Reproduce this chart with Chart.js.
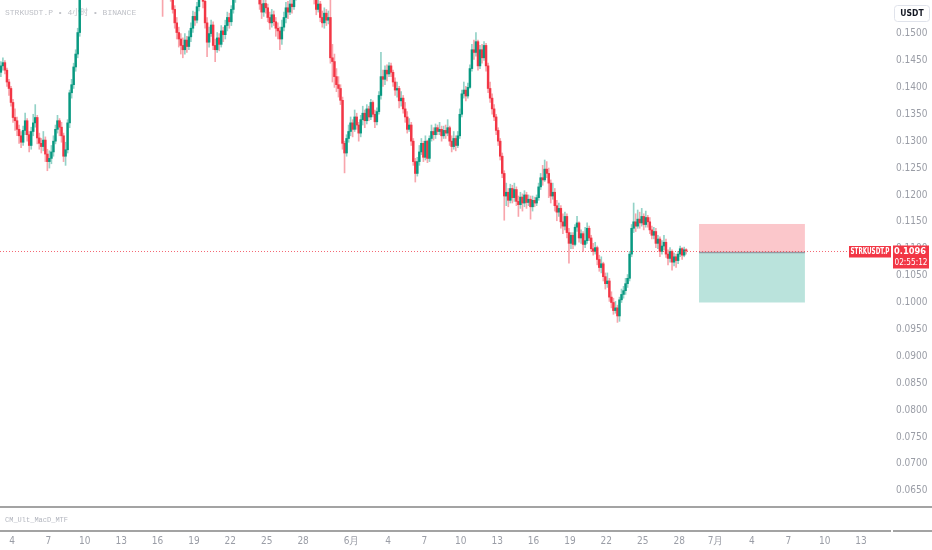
<!DOCTYPE html>
<html>
<head>
<meta charset="utf-8">
<script src="https://cdn.jsdelivr.net/npm/chart.js@4.4.1/dist/chart.umd.min.js"></script>
<style>
  html, body { margin: 0; padding: 0; background: #fff; }
  #wrap { width: 932px; height: 550px; }
</style>
</head>
<body>
<div id="wrap"><canvas id="chart" width="932" height="550"></canvas></div>
<script>
// STRKUSDT.P 4h candles, 5月3日 -> 6月28日
const symbolTitle = "STRKUSDT.P • 4小时 • BINANCE";
const indicatorName = "CM_Ult_MacD_MTF";
const firstDay = 2; // days counted from 5月1日 = 0
const firstOpen = 0.1428;

const closes = [
  0.1440, 0.1446, 0.1432, 0.1410, 0.1398, 0.1372, 0.1344, 0.1338, 0.1322, 0.1310,
  0.1298, 0.1320, 0.1338, 0.1312, 0.1292, 0.1318, 0.1334, 0.1344, 0.1306, 0.1296,
  0.1290, 0.1302, 0.1276, 0.1262, 0.1268, 0.1280, 0.1300, 0.1322, 0.1338, 0.1326,
  0.1310, 0.1272, 0.1284, 0.1334, 0.1390, 0.1405, 0.1438, 0.1462, 0.1502, 0.1590,
  0.1610, 0.1640, 0.1625, 0.1660, 0.1690, 0.1675, 0.1700, 0.1720, 0.1705, 0.1680,
  0.1695, 0.1710, 0.1690, 0.1665, 0.1650, 0.1670, 0.1685, 0.1660, 0.1640, 0.1655,
  0.1630, 0.1645, 0.1660, 0.1640, 0.1620, 0.1635, 0.1650, 0.1625, 0.1610, 0.1620,
  0.1605, 0.1615, 0.1600, 0.1610, 0.1595, 0.1605, 0.1590, 0.1598, 0.1585, 0.1592,
  0.1588, 0.1575, 0.1590, 0.1580, 0.1570, 0.1545, 0.1520, 0.1502, 0.1490, 0.1478,
  0.1470, 0.1488, 0.1476, 0.1494, 0.1510, 0.1532, 0.1525, 0.1550, 0.1572, 0.1590,
  0.1560, 0.1520, 0.1484, 0.1500, 0.1516, 0.1478, 0.1470, 0.1492, 0.1480, 0.1505,
  0.1498, 0.1515, 0.1530, 0.1522, 0.1545, 0.1565, 0.1590, 0.1610, 0.1625, 0.1640,
  0.1660, 0.1645, 0.1670, 0.1690, 0.1675, 0.1650, 0.1615, 0.1582, 0.1555, 0.1540,
  0.1556, 0.1548, 0.1530, 0.1520, 0.1535, 0.1522, 0.1510, 0.1505, 0.1490, 0.1512,
  0.1530, 0.1548, 0.1540, 0.1555, 0.1550, 0.1568, 0.1580, 0.1600, 0.1590, 0.1610,
  0.1600, 0.1620, 0.1605, 0.1595, 0.1580, 0.1565, 0.1545, 0.1555, 0.1530, 0.1520,
  0.1538, 0.1525, 0.1530, 0.1455, 0.1448, 0.1420, 0.1405, 0.1398, 0.1376, 0.1296,
  0.1278, 0.1305, 0.1318, 0.1334, 0.1322, 0.1345, 0.1330, 0.1315, 0.1340, 0.1352,
  0.1338, 0.1360, 0.1345, 0.1372, 0.1350, 0.1336, 0.1355, 0.1385, 0.1420, 0.1415,
  0.1432, 0.1425, 0.1440, 0.1428, 0.1410, 0.1395, 0.1398, 0.1375, 0.1380, 0.1360,
  0.1345, 0.1322, 0.1330, 0.1300, 0.1262, 0.1240, 0.1262, 0.1280, 0.1296, 0.1270,
  0.1300, 0.1268, 0.1305, 0.1318, 0.1312, 0.1325, 0.1318, 0.1322, 0.1310, 0.1320,
  0.1315, 0.1325, 0.1300, 0.1290, 0.1305, 0.1292, 0.1310, 0.1350, 0.1388, 0.1395,
  0.1384, 0.1400, 0.1435, 0.1470, 0.1465, 0.1485, 0.1440, 0.1470, 0.1455, 0.1478,
  0.1440, 0.1398, 0.1380, 0.1360, 0.1345, 0.1320, 0.1300, 0.1272, 0.1240, 0.1198,
  0.1205, 0.1190, 0.1212, 0.1195, 0.1210, 0.1188, 0.1182, 0.1196, 0.1185, 0.1200,
  0.1186, 0.1192, 0.1178, 0.1190, 0.1185, 0.1195, 0.1215, 0.1232, 0.1228, 0.1248,
  0.1240, 0.1222, 0.1198, 0.1205, 0.1180, 0.1168, 0.1175, 0.1150, 0.1142, 0.1160,
  0.1130, 0.1110, 0.1125, 0.1108, 0.1140, 0.1148, 0.1120, 0.1128, 0.1108, 0.1115,
  0.1138, 0.1120, 0.1100, 0.1095, 0.1102, 0.1080, 0.1065, 0.1072, 0.1048, 0.1035,
  0.1040, 0.1010, 0.1000, 0.0985, 0.0990, 0.0975, 0.1005, 0.1015, 0.1022, 0.1035,
  0.1045, 0.1090, 0.1138, 0.1150, 0.1142, 0.1155, 0.1148, 0.1160, 0.1145, 0.1158,
  0.1150, 0.1135, 0.1125, 0.1132, 0.1110, 0.1118, 0.1095, 0.1105, 0.1112, 0.1090,
  0.1082, 0.1095, 0.1075, 0.1085, 0.1078, 0.1090, 0.1100, 0.1088, 0.1098, 0.1096
];

const highs = [
  0.1448, 0.1455, 0.1450, 0.1436, 0.1415, 0.1402, 0.1378, 0.1360, 0.1345, 0.1330,
  0.1318, 0.1328, 0.1352, 0.1342, 0.1318, 0.1326, 0.1350, 0.1368, 0.1348, 0.1315,
  0.1305, 0.1318, 0.1308, 0.1285, 0.1282, 0.1292, 0.1310, 0.1330, 0.1348, 0.1342,
  0.1335, 0.1315, 0.1298, 0.1340, 0.1395, 0.1415, 0.1445, 0.1470, 0.1510, 0.1600,
  0.1625, 0.1655, 0.1650, 0.1670, 0.1705, 0.1700, 0.1712, 0.1735, 0.1730, 0.1712,
  0.1708, 0.1722, 0.1718, 0.1695, 0.1672, 0.1680, 0.1698, 0.1690, 0.1668, 0.1665,
  0.1660, 0.1652, 0.1672, 0.1665, 0.1645, 0.1642, 0.1662, 0.1655, 0.1630, 0.1632,
  0.1625, 0.1622, 0.1618, 0.1620, 0.1612, 0.1615, 0.1608, 0.1605, 0.1602, 0.1600,
  0.1598, 0.1595, 0.1600, 0.1598, 0.1588, 0.1575, 0.1552, 0.1530, 0.1512, 0.1500,
  0.1492, 0.1500, 0.1495, 0.1505, 0.1520, 0.1542, 0.1540, 0.1558, 0.1580, 0.1602,
  0.1598, 0.1572, 0.1530, 0.1512, 0.1525, 0.1522, 0.1490, 0.1502, 0.1500, 0.1515,
  0.1512, 0.1525, 0.1540, 0.1538, 0.1552, 0.1575, 0.1600, 0.1620, 0.1640, 0.1650,
  0.1672, 0.1668, 0.1685, 0.1702, 0.1698, 0.1680, 0.1658, 0.1625, 0.1590, 0.1568,
  0.1570, 0.1565, 0.1555, 0.1540, 0.1545, 0.1542, 0.1530, 0.1520, 0.1512, 0.1525,
  0.1540, 0.1558, 0.1560, 0.1565, 0.1568, 0.1580, 0.1595, 0.1612, 0.1608, 0.1625,
  0.1620, 0.1630, 0.1628, 0.1612, 0.1600, 0.1588, 0.1572, 0.1570, 0.1560, 0.1542,
  0.1548, 0.1545, 0.1542, 0.1565, 0.1480, 0.1462, 0.1435, 0.1420, 0.1405, 0.1382,
  0.1300, 0.1312, 0.1330, 0.1345, 0.1340, 0.1358, 0.1352, 0.1335, 0.1348, 0.1365,
  0.1358, 0.1368, 0.1365, 0.1378, 0.1375, 0.1358, 0.1362, 0.1392, 0.1465, 0.1432,
  0.1440, 0.1442, 0.1446, 0.1445, 0.1432, 0.1418, 0.1410, 0.1402, 0.1392, 0.1385,
  0.1372, 0.1355, 0.1342, 0.1335, 0.1305, 0.1268, 0.1270, 0.1292, 0.1305, 0.1300,
  0.1310, 0.1302, 0.1310, 0.1330, 0.1325, 0.1332, 0.1330, 0.1335, 0.1328, 0.1328,
  0.1330, 0.1340, 0.1328, 0.1310, 0.1318, 0.1310, 0.1318, 0.1360, 0.1395, 0.1410,
  0.1402, 0.1408, 0.1442, 0.1480, 0.1488, 0.1502, 0.1488, 0.1478, 0.1480, 0.1485,
  0.1482, 0.1445, 0.1410, 0.1388, 0.1368, 0.1350, 0.1325, 0.1305, 0.1278, 0.1245,
  0.1222, 0.1212, 0.1220, 0.1218, 0.1222, 0.1215, 0.1198, 0.1205, 0.1202, 0.1208,
  0.1205, 0.1200, 0.1198, 0.1198, 0.1196, 0.1200, 0.1222, 0.1240, 0.1255, 0.1265,
  0.1262, 0.1250, 0.1228, 0.1222, 0.1212, 0.1190, 0.1185, 0.1180, 0.1165, 0.1168,
  0.1165, 0.1138, 0.1130, 0.1130, 0.1145, 0.1160, 0.1150, 0.1135, 0.1132, 0.1140,
  0.1148, 0.1142, 0.1125, 0.1110, 0.1112, 0.1105, 0.1088, 0.1085, 0.1075, 0.1055,
  0.1055, 0.1045, 0.1020, 0.1008, 0.1002, 0.0995, 0.1010, 0.1025, 0.1030, 0.1045,
  0.1052, 0.1095, 0.1145, 0.1185, 0.1165, 0.1172, 0.1168, 0.1175, 0.1165, 0.1170,
  0.1162, 0.1158, 0.1142, 0.1140, 0.1138, 0.1125, 0.1122, 0.1115, 0.1125, 0.1118,
  0.1098, 0.1102, 0.1098, 0.1092, 0.1090, 0.1095, 0.1105, 0.1102, 0.1103, 0.1100
];

const lows = [
  0.1420, 0.1432, 0.1425, 0.1402, 0.1385, 0.1365, 0.1335, 0.1320, 0.1310, 0.1296,
  0.1288, 0.1292, 0.1312, 0.1300, 0.1280, 0.1285, 0.1310, 0.1326, 0.1295, 0.1285,
  0.1278, 0.1282, 0.1262, 0.1245, 0.1250, 0.1258, 0.1272, 0.1295, 0.1315, 0.1310,
  0.1298, 0.1262, 0.1255, 0.1278, 0.1325, 0.1380, 0.1398, 0.1430, 0.1455, 0.1495,
  0.1575, 0.1598, 0.1612, 0.1618, 0.1652, 0.1660, 0.1668, 0.1690, 0.1695, 0.1672,
  0.1672, 0.1688, 0.1680, 0.1655, 0.1638, 0.1645, 0.1662, 0.1652, 0.1628, 0.1632,
  0.1620, 0.1622, 0.1640, 0.1632, 0.1610, 0.1612, 0.1628, 0.1618, 0.1598, 0.1602,
  0.1595, 0.1598, 0.1588, 0.1592, 0.1582, 0.1585, 0.1578, 0.1580, 0.1570, 0.1568,
  0.1532, 0.1568, 0.1570, 0.1572, 0.1560, 0.1538, 0.1510, 0.1490, 0.1475, 0.1462,
  0.1455, 0.1462, 0.1465, 0.1470, 0.1485, 0.1502, 0.1515, 0.1520, 0.1542, 0.1565,
  0.1548, 0.1510, 0.1457, 0.1475, 0.1495, 0.1470, 0.1448, 0.1465, 0.1468, 0.1475,
  0.1485, 0.1490, 0.1505, 0.1510, 0.1515, 0.1538, 0.1558, 0.1582, 0.1600, 0.1615,
  0.1632, 0.1638, 0.1640, 0.1662, 0.1665, 0.1642, 0.1605, 0.1570, 0.1545, 0.1528,
  0.1532, 0.1538, 0.1522, 0.1508, 0.1512, 0.1515, 0.1495, 0.1490, 0.1470, 0.1480,
  0.1505, 0.1520, 0.1528, 0.1535, 0.1538, 0.1545, 0.1562, 0.1575, 0.1578, 0.1582,
  0.1590, 0.1595, 0.1598, 0.1585, 0.1570, 0.1555, 0.1535, 0.1540, 0.1522, 0.1512,
  0.1510, 0.1515, 0.1518, 0.1445, 0.1410, 0.1400, 0.1392, 0.1382, 0.1368, 0.1285,
  0.1241, 0.1272, 0.1298, 0.1310, 0.1308, 0.1318, 0.1322, 0.1300, 0.1308, 0.1330,
  0.1325, 0.1332, 0.1338, 0.1340, 0.1345, 0.1325, 0.1330, 0.1350, 0.1378, 0.1402,
  0.1405, 0.1412, 0.1420, 0.1420, 0.1402, 0.1385, 0.1382, 0.1362, 0.1365, 0.1352,
  0.1335, 0.1315, 0.1318, 0.1292, 0.1255, 0.1224, 0.1235, 0.1255, 0.1275, 0.1262,
  0.1265, 0.1260, 0.1262, 0.1300, 0.1302, 0.1305, 0.1312, 0.1312, 0.1300, 0.1305,
  0.1305, 0.1310, 0.1292, 0.1280, 0.1285, 0.1282, 0.1288, 0.1305, 0.1345, 0.1380,
  0.1375, 0.1380, 0.1398, 0.1430, 0.1452, 0.1458, 0.1432, 0.1435, 0.1445, 0.1450,
  0.1430, 0.1390, 0.1372, 0.1350, 0.1338, 0.1312, 0.1292, 0.1265, 0.1232, 0.1153,
  0.1180, 0.1178, 0.1185, 0.1185, 0.1188, 0.1180, 0.1160, 0.1175, 0.1170, 0.1178,
  0.1175, 0.1180, 0.1155, 0.1170, 0.1178, 0.1180, 0.1190, 0.1210, 0.1218, 0.1225,
  0.1232, 0.1195, 0.1185, 0.1192, 0.1170, 0.1152, 0.1160, 0.1138, 0.1128, 0.1135,
  0.1120, 0.1073, 0.1100, 0.1100, 0.1105, 0.1132, 0.1112, 0.1110, 0.1095, 0.1102,
  0.1110, 0.1115, 0.1095, 0.1088, 0.1090, 0.1070, 0.1058, 0.1055, 0.1040, 0.1025,
  0.1028, 0.1002, 0.0990, 0.0978, 0.0980, 0.0963, 0.0965, 0.1000, 0.1008, 0.1015,
  0.1028, 0.1040, 0.1085, 0.1130, 0.1132, 0.1138, 0.1138, 0.1142, 0.1135, 0.1140,
  0.1140, 0.1128, 0.1118, 0.1118, 0.1102, 0.1100, 0.1085, 0.1090, 0.1098, 0.1084,
  0.1070, 0.1075, 0.1060, 0.1068, 0.1065, 0.1072, 0.1085, 0.1080, 0.1085, 0.1090
];

const priceTicks = [0.0650, 0.0700, 0.0750, 0.0800, 0.0850, 0.0900, 0.0950, 0.1000, 0.1050,
  0.1100, 0.1150, 0.1200, 0.1250, 0.1300, 0.1350, 0.1400, 0.1450, 0.1500];
const dayTicks = [3, 6, 9, 12, 15, 18, 21, 24, 27, 31, 34, 37, 40, 43, 46, 49, 52, 55, 58, 61, 64, 67, 70, 73];
const dayLabels = ["4", "7", "10", "13", "16", "19", "22", "25", "28", "6月", "4", "7", "10", "13",
  "16", "19", "22", "25", "28", "7月", "4", "7", "10", "13"];

const lastPrice = 0.1096;
const countdown = "02:55:12";
// long position tool
const posStop = 0.1146;
const posEntry = 0.1093;
const posTarget = 0.1000;
const posFrom = 59.64;
const posTo = 68.37;

const UP = "#089981";
const DOWN = "#f23645";
const UP_WICK = "#93d2c7";
const DOWN_WICK = "#f8a5ac";
const FONT = '"Liberation Sans Narrow", "DejaVu Sans Condensed", Roboto, sans-serif';

const opens = closes.map((c, i) => (i === 0 ? firstOpen : closes[i - 1]));
const times = closes.map((c, i) => firstDay + (i + 0.5) / 6);
const isUp = closes.map((c, i) => c >= opens[i]);

const bodyData = closes.map((c, i) => ({ x: times[i], y: [opens[i], c] }));
const wickData = closes.map((c, i) => ({
  x: times[i],
  y: [Math.min(lows[i], opens[i], c), Math.max(highs[i], opens[i], c)],
}));

const noPad = (scale) => {
  scale.paddingTop = 0;
  scale.paddingBottom = 0;
  scale.paddingLeft = 0;
  scale.paddingRight = 0;
};

const overlay = {
  id: "overlay",
  beforeDatasetsDraw(chart) {
    const { ctx, scales: { x, y } } = chart;
    ctx.save();
    ctx.font = '8px "Liberation Mono", "DejaVu Sans Mono", "Noto Sans CJK SC", monospace';
    ctx.fillStyle = "#bfc1c7";
    ctx.textBaseline = "middle";
    ctx.fillText(symbolTitle, 5, 13);

    const x0 = x.getPixelForValue(posFrom);
    const x1 = x.getPixelForValue(posTo);
    const yS = y.getPixelForValue(posStop);
    const yE = y.getPixelForValue(posEntry);
    const yT = y.getPixelForValue(posTarget);
    ctx.fillStyle = "rgba(242, 54, 69, 0.28)";
    ctx.fillRect(x0, yS, x1 - x0, yE - yS);
    ctx.fillStyle = "rgba(8, 153, 129, 0.28)";
    ctx.fillRect(x0, yE, x1 - x0, yT - yE);
    ctx.strokeStyle = "#9598a1";
    ctx.lineWidth = 1.5;
    ctx.beginPath();
    ctx.moveTo(x0, yE);
    ctx.lineTo(x1, yE);
    ctx.stroke();
    ctx.restore();
  },
  afterDraw(chart) {
    const { ctx, chartArea, scales: { y } } = chart;
    const yp = Math.round(y.getPixelForValue(lastPrice)) + 0.5;
    ctx.save();

    // last price dotted line
    ctx.strokeStyle = "rgba(242, 54, 69, 0.75)";
    ctx.lineWidth = 1;
    ctx.setLineDash([1, 2]);
    ctx.beginPath();
    ctx.moveTo(0, yp);
    ctx.lineTo(848, yp);
    ctx.stroke();
    ctx.setLineDash([]);

    // pane separators
    ctx.fillStyle = "#a3a3a3";
    ctx.fillRect(0, 506, 932, 2);
    ctx.fillRect(0, chartArea.bottom - 1, chartArea.right - 1, 2);
    ctx.fillRect(chartArea.right + 1, chartArea.bottom - 1, 932 - chartArea.right, 2);

    ctx.font = '7px "Liberation Mono", "DejaVu Sans Mono", monospace';
    ctx.fillStyle = "#b2b5be";
    ctx.textBaseline = "middle";
    ctx.fillText(indicatorName, 5, 520);

    // symbol and price labels
    ctx.fillStyle = DOWN;
    ctx.fillRect(849, yp - 5.5, 42, 11.5);
    ctx.fillRect(893, yp - 6, 36, 23);
    ctx.fillStyle = "#ffffff";
    ctx.textAlign = "center";
    ctx.font = "bold 8px " + FONT;
    ctx.fillText("STRKUSDT.P", 870, yp + 0.5, 39);
    ctx.font = "bold 9.5px " + FONT;
    ctx.fillText(lastPrice.toFixed(4), 910, yp + 0.5, 32);
    ctx.font = "8.5px " + FONT;
    ctx.fillText(countdown, 911, yp + 11, 33);

    // currency button
    ctx.beginPath();
    ctx.roundRect(894.5, 5.5, 35, 16, 3);
    ctx.fillStyle = "#ffffff";
    ctx.fill();
    ctx.strokeStyle = "#e0e3eb";
    ctx.lineWidth = 1;
    ctx.stroke();
    ctx.fillStyle = "#131722";
    ctx.font = "bold 8.5px " + FONT;
    ctx.fillText("USDT", 912, 14);
    ctx.restore();
  },
};

new Chart(document.getElementById("chart"), {
  type: "bar",
  data: {
    datasets: [
      {
        data: wickData,
        backgroundColor: isUp.map((u) => (u ? UP_WICK : DOWN_WICK)),
        barThickness: 1,
        grouped: false,
        order: 2,
      },
      {
        data: bodyData,
        backgroundColor: isUp.map((u) => (u ? UP : DOWN)),
        barThickness: 1.8,
        minBarLength: 1,
        grouped: false,
        order: 1,
      },
    ],
  },
  options: {
    responsive: false,
    animation: false,
    events: [],
    layout: { padding: 0 },
    plugins: { legend: { display: false }, tooltip: { enabled: false } },
    scales: {
      x: {
        type: "linear",
        min: 2.011,
        max: 75.55,
        offset: false,
        grid: { display: false, drawTicks: false, offset: false },
        border: { display: false },
        afterBuildTicks: (scale) => { scale.ticks = dayTicks.map((v) => ({ value: v })); },
        afterFit: (scale) => { scale.height = 19; noPad(scale); },
        ticks: {
          autoSkip: false,
          maxRotation: 0,
          padding: 4,
          color: "#9a9da6",
          font: { family: FONT, size: 10 },
          callback: (v, i) => dayLabels[i],
        },
      },
      y: {
        position: "right",
        min: 0.05751,
        max: 0.15625,
        grid: { display: false, drawTicks: false },
        border: { display: false },
        afterBuildTicks: (scale) => { scale.ticks = priceTicks.map((v) => ({ value: v })); },
        afterFit: (scale) => { scale.width = 40; noPad(scale); },
        ticks: {
          padding: 4,
          color: "#9a9da6",
          font: { family: FONT, size: 10 },
          callback: (v) => v.toFixed(4),
        },
      },
    },
  },
  plugins: [overlay],
});
</script>
</body>
</html>
